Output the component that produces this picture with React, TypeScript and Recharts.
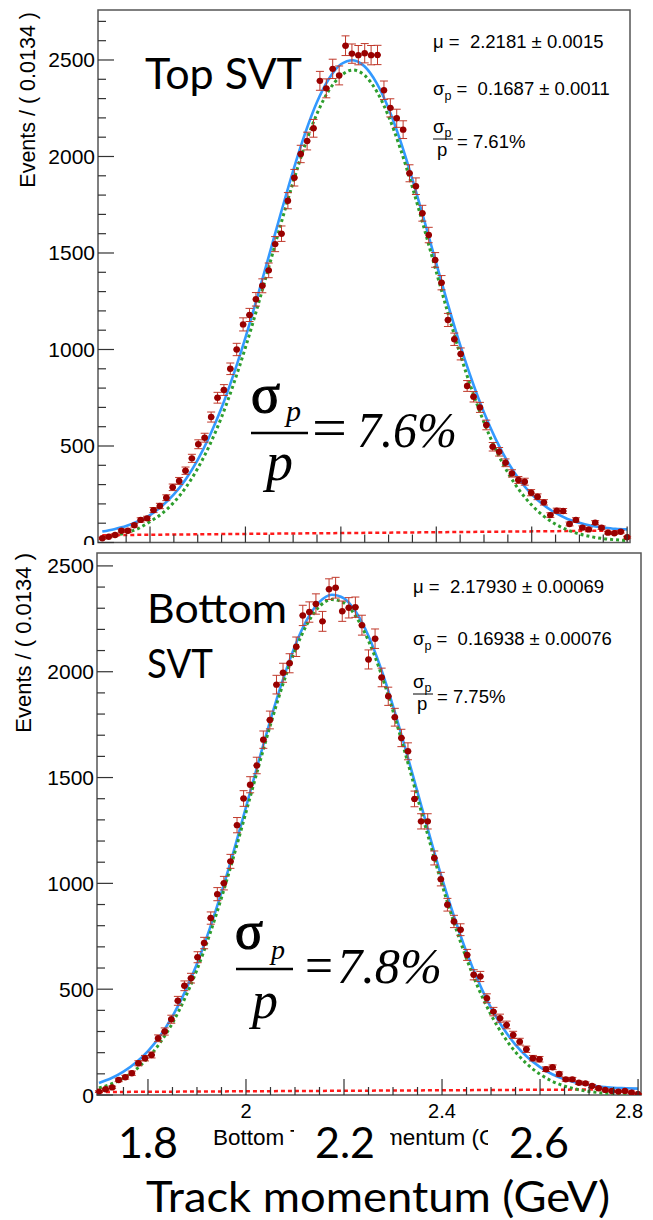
import React from 'react';
import { ComposedChart, Line, Scatter, XAxis, YAxis, ErrorBar, ReferenceArea } from 'recharts';

// ---------- data ----------
const BIN_X = [
  1.7, 1.7134, 1.7268, 1.7402, 1.7537, 1.7671, 1.7805, 1.7939, 1.8073, 1.8207,
  1.8342, 1.8476, 1.861, 1.8744, 1.8878, 1.9012, 1.9146, 1.9281, 1.9415, 1.9549,
  1.9683, 1.9817, 1.9951, 2.0085, 2.022, 2.0354, 2.0488, 2.0622, 2.0756, 2.089,
  2.1025, 2.1159, 2.1293, 2.1427, 2.1561, 2.1695, 2.1829, 2.1964, 2.2098, 2.2232,
  2.2366, 2.25, 2.2634, 2.2768, 2.2903, 2.3037, 2.3171, 2.3305, 2.3439, 2.3573,
  2.3708, 2.3842, 2.3976, 2.411, 2.4244, 2.4378, 2.4512, 2.4647, 2.4781, 2.4915,
  2.5049, 2.5183, 2.5317, 2.5451, 2.5586, 2.572, 2.5854, 2.5988, 2.6122, 2.6256,
  2.6391, 2.6525, 2.6659, 2.6793, 2.6927, 2.7061, 2.7195, 2.733, 2.7464, 2.7598,
  2.7732, 2.7866, 2.8,
];
const HALF_BIN = 0.0067;

const TOP_COUNTS = [
  22, 30, 39, 61, 61, 89, 117, 125, 168, 189,
  232, 286, 319, 372, 436, 509, 543, 650, 750, 790,
  900, 1000, 1130, 1179, 1260, 1330, 1410, 1546, 1600, 1771,
  1890, 2013, 2080, 2146, 2392, 2353, 2454, 2420, 2574, 2533,
  2525, 2535, 2525, 2526, 2343, 2252, 2198, 2139, 1913, 1846,
  1706, 1593, 1464, 1346, 1153, 1053, 977, 811, 755, 700,
  609, 496, 470, 413, 358, 324, 315, 258, 237, 208,
  142, 165, 163, 96, 117, 77, 68, 103, 77, 51,
  48, 56, 27,
];
const TOP_ERRS = [
  5, 5, 6, 8, 8, 9, 11, 11, 13, 14,
  15, 17, 18, 19, 21, 23, 23, 26, 28, 28,
  30, 32, 34, 34, 35, 36, 38, 39, 40, 42,
  43, 45, 46, 46, 49, 49, 50, 49, 51, 50,
  50, 50, 50, 50, 48, 47, 47, 46, 44, 43,
  41, 40, 38, 37, 34, 32, 31, 28, 27, 26,
  25, 22, 22, 20, 19, 18, 18, 16, 15, 14,
  12, 13, 13, 10, 11, 9, 8, 10, 9, 7,
  7, 7, 5,
];
const BOT_COUNTS = [
  16, 27, 36, 71, 84, 103, 150, 174, 189, 268,
  300, 358, 445, 516, 552, 651, 718, 836, 949, 1001,
  1104, 1275, 1401, 1466, 1557, 1679, 1772, 1939, 1995, 2040,
  2118, 2266, 2282, 2320, 2238, 2390, 2397, 2286, 2302, 2305,
  2220, 2058, 2156, 1973, 1884, 1785, 1687, 1624, 1399, 1293,
  1293, 1120, 1020, 899, 820, 781, 662, 568, 560, 457,
  394, 363, 331, 284, 252, 216, 174, 169, 122, 131,
  99, 74, 74, 58, 55, 43, 32, 24, 19, 16,
  19, 11, 5,
];
const BOT_ERRS = [
  4, 5, 6, 8, 9, 10, 12, 13, 14, 16,
  17, 19, 21, 23, 23, 26, 27, 29, 31, 32,
  33, 36, 37, 38, 39, 41, 42, 44, 45, 45,
  46, 48, 48, 48, 47, 49, 49, 48, 48, 48,
  47, 45, 46, 44, 43, 42, 41, 40, 37, 36,
  36, 33, 32, 30, 29, 28, 26, 24, 24, 21,
  20, 19, 18, 17, 16, 15, 13, 13, 11, 11,
  10, 9, 9, 8, 7, 7, 6, 5, 4, 4,
  4, 3, 2,
];

const CURVE_X = [
  1.7, 1.725, 1.75, 1.775, 1.8, 1.825, 1.85, 1.875, 1.9, 1.925,
  1.95, 1.975, 2.0, 2.025, 2.05, 2.075, 2.1, 2.125, 2.15, 2.175,
  2.2, 2.225, 2.25, 2.275, 2.3, 2.325, 2.35, 2.375, 2.4, 2.425,
  2.45, 2.475, 2.5, 2.525, 2.55, 2.575, 2.6, 2.625, 2.65, 2.675,
  2.7, 2.725, 2.75, 2.775, 2.8,
];
const TOP_TOTAL = [
  57, 69, 85, 110, 142, 189, 249, 328, 428, 552,
  698, 870, 1062, 1272, 1492, 1713, 1926, 2119, 2282, 2403,
  2478, 2499, 2466, 2380, 2249, 2080, 1882, 1667, 1446, 1229,
  1024, 838, 673, 533, 416, 323, 250, 194, 153, 122,
  102, 87, 78, 71, 68,
];
const TOP_SIGNAL = [
  26, 36, 50, 72, 108, 150, 208, 285, 384, 505,
  650, 820, 1010, 1218, 1436, 1656, 1867, 2060, 2222, 2343,
  2418, 2448, 2420, 2338, 2208, 2038, 1840, 1624, 1402, 1183,
  976, 788, 622, 480, 362, 268, 194, 137, 95, 65,
  44, 30, 20, 14, 10,
];
const BOT_TOTAL = [
  57, 79, 110, 152, 207, 280, 372, 485, 620, 779,
  957, 1152, 1360, 1569, 1773, 1960, 2122, 2248, 2330, 2364,
  2347, 2280, 2169, 2018, 1838, 1639, 1431, 1223, 1023, 840,
  675, 533, 412, 315, 237, 177, 132, 98, 74, 58,
  47, 39, 34, 32, 30,
];
const BOT_SIGNAL = [
  33, 52, 80, 120, 175, 248, 340, 455, 592, 752,
  932, 1128, 1336, 1546, 1750, 1938, 2100, 2226, 2309, 2341,
  2325, 2258, 2146, 1995, 1814, 1614, 1404, 1195, 994, 810,
  644, 500, 379, 281, 203, 143, 98, 65, 42, 27,
  17, 10, 6, 4, 2,
];
const BKG_X = [1.7, 2.8];
const TOP_BKG = [38, 62];
const BOT_BKG = [14, 27];

const X_TICKS = [
  1.75, 1.8, 1.85, 1.9, 1.95, 2.0, 2.05, 2.1, 2.15, 2.2, 2.25, 2.3,
  2.35, 2.4, 2.45, 2.5, 2.55, 2.6, 2.65, 2.7, 2.75, 2.8,
];
const X_LABELS = [2.0, 2.4, 2.8];
const TOP_Y_TICKS = [
  0, 100, 200, 300, 400, 500, 600, 700, 800, 900, 1000, 1100, 1200, 1300,
  1400, 1500, 1600, 1700, 1800, 1900, 2000, 2100, 2200, 2300, 2400, 2500, 2600, 2700,
];
const BOT_Y_TICKS = [
  0, 100, 200, 300, 400, 500, 600, 700, 800, 900, 1000, 1100, 1200, 1300,
  1400, 1500, 1600, 1700, 1800, 1900, 2000, 2100, 2200, 2300, 2400, 2500,
];

// ---------- styling ----------
const SANS = "'Liberation Sans', Arial, sans-serif";
const SERIF = "'Liberation Serif', 'Times New Roman', serif";
const CAL = "Lato, 'Open Sans', sans-serif";
const FRAME = '#555';
const TICK = '#333';

function makeXTick(showLabels: boolean) {
  return function XTick(props: any) {
    const { x, y, payload } = props;
    const v = Number(payload.value);
    const major = Math.abs(v * 5 - Math.round(v * 5)) < 1e-6;
    const len = major ? 16 : 8;
    const lab = showLabels && X_LABELS.some((l) => Math.abs(l - v) < 1e-6);
    const last = Math.abs(v - 2.8) < 1e-6;
    return (
      <g>
        <line x1={x} y1={y} x2={x} y2={y - len} stroke={TICK} strokeWidth={1.2} />
        {lab ? (
          <text
            x={last ? x + 5 : x}
            y={y + 23}
            textAnchor={last ? 'end' : 'middle'}
            fontFamily={SANS}
            fontSize={20}
            fill="#000"
          >
            {String(Number(v.toFixed(2)))}
          </text>
        ) : null}
      </g>
    );
  };
}

function YTick(props: any) {
  const { x, y, payload } = props;
  const v = Number(payload.value);
  const major = v % 500 === 0;
  const len = major ? 16 : 8;
  return (
    <g>
      <line x1={x} y1={y} x2={x + len} y2={y} stroke={TICK} strokeWidth={1.2} />
      {major ? (
        <text x={x - 3} y={y + 7.5} textAnchor="end" fontFamily={SANS} fontSize={21} fill="#000">
          {String(v)}
        </text>
      ) : null}
    </g>
  );
}

function Dot(props: any) {
  const { cx, cy } = props;
  if (cx == null || cy == null) return null;
  return <circle cx={cx} cy={cy} r={3.2} fill="#990000" />;
}

type PanelProps = {
  counts: number[];
  errs: number[];
  total: number[];
  signal: number[];
  bkg: number[];
  xDomain: [number, number];
  yDomain: [number, number];
  yTicks: number[];
  width: number;
  height: number;
  margin: { top: number; right: number; bottom: number; left: number };
  yAxisWidth: number;
  xAxisHeight: number;
  showXLabels: boolean;
};

function Panel(p: PanelProps) {
  const points = BIN_X.map((x, i) => ({ x, y: p.counts[i], e: p.errs[i], xe: HALF_BIN }));
  const totalData = CURVE_X.map((x, i) => ({ x, y: p.total[i] }));
  const signalData = CURVE_X.map((x, i) => ({ x, y: p.signal[i] }));
  const bkgData = BKG_X.map((x, i) => ({ x, y: p.bkg[i] }));
  return (
    <ComposedChart width={p.width} height={p.height} margin={p.margin}>
      <XAxis
        dataKey="x"
        type="number"
        domain={p.xDomain}
        allowDataOverflow
        ticks={X_TICKS}
        interval={0}
        tickSize={0}
        tickMargin={0}
        tickLine={false}
        axisLine={false}
        height={p.xAxisHeight}
        tick={makeXTick(p.showXLabels)}
      />
      <YAxis
        dataKey="y"
        type="number"
        domain={p.yDomain}
        allowDataOverflow
        ticks={p.yTicks}
        interval={0}
        tickSize={0}
        tickMargin={0}
        tickLine={false}
        axisLine={false}
        width={p.yAxisWidth}
        tick={YTick}
      />
      <ReferenceArea
        x1={p.xDomain[0]}
        x2={p.xDomain[1]}
        y1={p.yDomain[0]}
        y2={p.yDomain[1]}
        fill="none"
        fillOpacity={0}
        stroke={FRAME}
        strokeWidth={1.5}
        ifOverflow="visible"
      />
      <Line data={bkgData} dataKey="y" type="linear" stroke="#ff1a1a" strokeWidth={2.5} strokeDasharray="4 3" dot={false} activeDot={false} isAnimationActive={false} />
      <Line data={totalData} dataKey="y" type="monotone" stroke="#3399ff" strokeWidth={2.6} dot={false} activeDot={false} isAnimationActive={false} />
      <Line data={signalData} dataKey="y" type="monotone" stroke="#2e9e2e" strokeWidth={3} strokeDasharray="3 3" dot={false} activeDot={false} isAnimationActive={false} />
      <Scatter data={points} dataKey="y" shape={Dot} isAnimationActive={false}>
        <ErrorBar dataKey="e" direction="y" width={4} stroke="#c0392b" strokeWidth={1} />
        <ErrorBar dataKey="xe" direction="x" width={0} stroke="#990000" strokeWidth={2} />
      </Scatter>
    </ComposedChart>
  );
}

function Overlay() {
  const pre: React.CSSProperties = { whiteSpace: 'pre' };
  return (
    <svg width={653} height={1220} style={{ position: 'absolute', left: 0, top: 0, pointerEvents: 'none' }}>
      {/* y-axis titles */}
      <text transform="translate(35,12) rotate(-90)" textAnchor="end" fontFamily={SANS} fontSize={21.5} fill="#000" style={pre}>
        Events / ( 0.0134 )
      </text>
      <text transform="translate(31,553) rotate(-90)" textAnchor="end" fontFamily={SANS} fontSize={22} fill="#000" style={pre}>
        Events / ( 0.0134 )
      </text>

      {/* panel labels */}
      <text x={145} y={89} fontFamily={CAL} fontSize={43} fill="#000" textLength={157} lengthAdjust="spacingAndGlyphs">Top SVT</text>
      <text x={147} y={623} fontFamily={CAL} fontSize={41} fill="#000" textLength={140} lengthAdjust="spacingAndGlyphs">Bottom</text>
      <text x={147} y={678} fontFamily={CAL} fontSize={41} fill="#000" textLength={66} lengthAdjust="spacingAndGlyphs">SVT</text>

      {/* top fit results */}
      <g fontFamily={SANS} fontSize={18.5} fill="#000">
        <text x={433} y={48} style={pre}>μ =  2.2181 ± 0.0015</text>
        <text x={433} y={95} style={pre}>
          σ<tspan fontSize={12.5} dy={5}>p</tspan><tspan dy={-5}>{' =  0.1687 ± 0.0011'}</tspan>
        </text>
        <text x={433} y={133} style={pre}>
          σ<tspan fontSize={12.5} dy={4}>p</tspan>
        </text>
        <line x1={433} y1={139} x2={453} y2={139} stroke="#000" strokeWidth={1} />
        <text x={437} y={156}>p</text>
        <text x={457} y={148} style={pre}>= 7.61%</text>
      </g>

      {/* bottom fit results */}
      <g fontFamily={SANS} fontSize={18.5} fill="#000">
        <text x={413} y={593} style={pre}>μ =  2.17930 ± 0.00069</text>
        <text x={413} y={645} style={pre}>
          σ<tspan fontSize={12.5} dy={5}>p</tspan><tspan dy={-5}>{' =  0.16938 ± 0.00076'}</tspan>
        </text>
        <text x={413} y={688} style={pre}>
          σ<tspan fontSize={12.5} dy={4}>p</tspan>
        </text>
        <line x1={413} y1={694} x2={433} y2={694} stroke="#000" strokeWidth={1} />
        <text x={417} y={710}>p</text>
        <text x={437} y={703} style={pre}>= 7.75%</text>
      </g>

      {/* big resolution formulas */}
      <g fontFamily={SERIF} fill="#000">
        <text x={251} y={412} fontSize={54} stroke="#000" strokeWidth={1.2}>σ</text>
        <text x={286} y={421} fontSize={30} fontStyle="italic">p</text>
        <line x1={251} y1={433} x2={308} y2={433} stroke="#000" strokeWidth={2.5} />
        <text x={266} y={480} fontSize={54} fontStyle="italic">p</text>
        <text x={312} y={447} fontSize={56} textLength={35} lengthAdjust="spacingAndGlyphs">=</text>
        <text x={357} y={447} fontSize={50} fontStyle="italic" textLength={100} lengthAdjust="spacingAndGlyphs">7.6%</text>

        <text x={235} y={948} fontSize={52} stroke="#000" strokeWidth={1.2}>σ</text>
        <text x={271} y={959} fontSize={28} fontStyle="italic">p</text>
        <line x1={236} y1={969} x2={293} y2={969} stroke="#000" strokeWidth={2.5} />
        <text x={252} y={1018} fontSize={52} fontStyle="italic">p</text>
        <text x={305} y={983} fontSize={52} textLength={28} lengthAdjust="spacingAndGlyphs">=</text>
        <text x={337} y={983} fontSize={50} fontStyle="italic" textLength={105} lengthAdjust="spacingAndGlyphs">7.8%</text>
      </g>

      {/* ROOT x-axis title, partly covered by the slide labels */}
      <text x={213} y={1145} fontFamily={SANS} fontSize={22.5} fill="#000">Bottom T</text>
      <text x={384} y={1145} fontFamily={SANS} fontSize={22.5} fill="#000">mentum (G</text>
      <rect x={294} y={1121} width={96} height={50} fill="#fff" />
      <rect x={488} y={1121} width={105} height={50} fill="#fff" />

      {/* slide labels */}
      <g fontFamily={CAL} fontSize={43} fill="#000" textAnchor="middle">
        <text x={148} y={1158}>1.8</text>
        <text x={345} y={1158}>2.2</text>
        <text x={539} y={1158}>2.6</text>
      </g>
      <text x={146} y={1212} fontFamily={CAL} fontSize={42} fill="#000" textLength={464} lengthAdjust="spacingAndGlyphs">
        Track momentum (GeV)
      </text>
    </svg>
  );
}

export default function App() {
  return (
    <div style={{ position: 'relative', width: 653, height: 1220, background: '#fff', overflow: 'hidden' }}>
      <style>{'body{margin:0;background:#fff;}'}</style>
      <div style={{ position: 'absolute', left: 0, top: 0, width: 653, height: 560 }}>
        <Panel
          counts={TOP_COUNTS}
          errs={TOP_ERRS}
          total={TOP_TOTAL}
          signal={TOP_SIGNAL}
          bkg={TOP_BKG}
          xDomain={[1.691, 2.806]}
          yDomain={[0, 2759]}
          yTicks={TOP_Y_TICKS}
          width={653}
          height={560}
          margin={{ top: 10, right: 23, bottom: 0, left: 0 }}
          yAxisWidth={98}
          xAxisHeight={17.5}
          showXLabels={false}
        />
      </div>
      <div style={{ position: 'absolute', left: 0, top: 545, width: 653, height: 675, background: '#fff' }}>
        <Panel
          counts={BOT_COUNTS}
          errs={BOT_ERRS}
          total={BOT_TOTAL}
          signal={BOT_SIGNAL}
          bkg={BOT_BKG}
          xDomain={[1.696, 2.806]}
          yDomain={[0, 2561]}
          yTicks={BOT_Y_TICKS}
          width={653}
          height={675}
          margin={{ top: 8, right: 12, bottom: 0, left: 0 }}
          yAxisWidth={97}
          xAxisHeight={125}
          showXLabels={true}
        />
      </div>
      <Overlay />
    </div>
  );
}
